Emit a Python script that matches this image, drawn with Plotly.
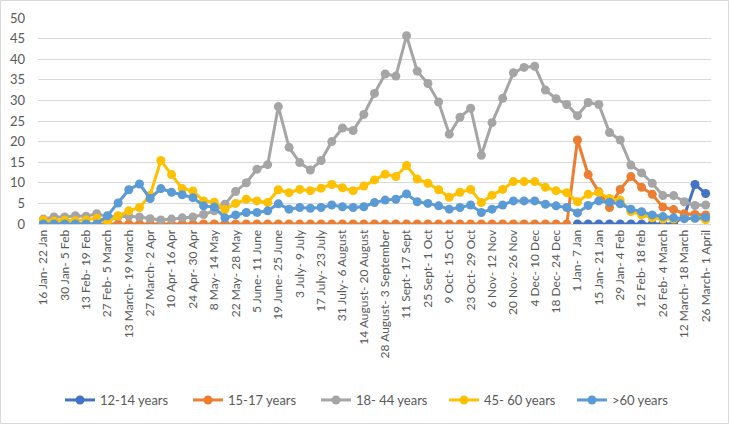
import plotly.graph_objects as go

weeks = [
    "16 Jan- 22 Jan", "23 Jan- 29 Jan", "30 Jan- 5 Feb", "6 Feb- 12 Feb", "13 Feb- 19 Feb",
    "20 Feb- 26 Feb", "27 Feb- 5 March", "6 March- 12 March", "13 March- 19 March", "20 March- 26 March",
    "27 March- 2 Apr", "3 Apr- 9 Apr", "10 Apr- 16 Apr", "17 Apr- 23 Apr", "24 Apr- 30 Apr",
    "1 May- 7 May", "8 May- 14 May", "15 May- 21 May", "22 May- 28 May", "29 May- 4 June",
    "5 June- 11 June", "12 June- 18 June", "19 June- 25 June", "26 June- 2 July", "3 July- 9 July",
    "10 July- 16 July", "17 July- 23 July", "24 July- 30 July", "31 July- 6 August", "7 August- 13 August",
    "14 August- 20 August", "21 August- 27 August", "28 August- 3 September", "4 Sept- 10 Sept", "11 Sept- 17 Sept",
    "18 Sept- 24 Sept", "25 Sept- 1 Oct", "2 Oct- 8 Oct", "9 Oct- 15 Oct", "16 Oct- 22 Oct",
    "23 Oct- 29 Oct", "30 Oct- 5 Nov", "6 Nov- 12 Nov", "13 Nov- 19 Nov", "20 Nov- 26 Nov",
    "27 Nov- 3 Dec", "4 Dec- 10 Dec", "11 Dec- 17 Dec", "18 Dec- 24 Dec", "25 Dec- 31 Dec",
    "1 Jan- 7 Jan", "8 Jan- 14 Jan", "15 Jan- 21 Jan", "22 Jan- 28 Jan", "29 Jan- 4 Feb",
    "5 Feb- 11 Feb", "12 Feb- 18 feb", "19 Feb- 25 Feb", "26 Feb- 4 March", "5 March- 11 March",
    "12 March- 18 March", "19 March- 25 March", "26 March- 1 April",
]

age_12_14 = [None] * 50 + [0, 0, 0, 0, 0, 0, 0, 0, 0, 0, 2.0, 9.6, 7.4]

age_15_17 = [0] * 50 + [20.4, 12.0, 7.8, 4.0, 8.4, 11.5, 8.9, 7.2, 4.1, 3.5, 2.5, 2.3, 2.2]

age_18_44 = [
    1.2, 1.7, 1.7, 2.0, 1.9, 2.5, 1.8, 1.8, 1.9, 1.7,
    1.3, 1.0, 1.2, 1.5, 1.7, 2.3, 3.2, 4.8, 7.9, 10.0,
    13.3, 14.4, 28.5, 18.6, 14.9, 13.1, 15.4, 20.0, 23.3, 22.7,
    26.6, 31.7, 36.4, 35.9, 45.7, 37.1, 34.1, 29.6, 21.8, 25.9,
    28.1, 16.7, 24.6, 30.5, 36.7, 38.0, 38.3, 32.5, 30.4, 29.0,
    26.3, 29.5, 29.0, 22.2, 20.4, 14.3, 12.4, 9.9, 6.9, 6.9,
    5.4, 4.5, 4.6,
]

age_45_60 = [
    1.0, 0.7, 0.9, 0.8, 1.0, 1.4, 0.6, 2.0, 3.2, 4.0,
    7.0, 15.4, 12.0, 8.6, 8.0, 5.6, 5.3, 3.5, 5.0, 6.0,
    5.6, 5.2, 8.3, 7.6, 8.4, 8.1, 8.7, 9.6, 8.8, 8.1,
    9.2, 10.7, 12.1, 11.5, 14.2, 10.9, 9.9, 8.3, 6.5, 7.7,
    8.4, 5.2, 7.0, 8.4, 10.3, 10.3, 10.3, 8.9, 8.1, 7.6,
    5.4, 7.2, 7.6, 6.2, 5.8, 3.0, 2.2, 1.5, 1.2, 1.2,
    1.3, 1.4, 1.0,
]

age_60_plus = [
    0, 0, 0, 0, 0, 0, 2.0, 5.1, 8.3, 9.7,
    6.2, 8.6, 7.7, 7.1, 6.4, 4.4, 4.1, 1.5, 2.2, 2.8,
    2.8, 3.2, 4.9, 3.6, 4.0, 3.8, 4.0, 4.6, 4.2, 4.0,
    4.2, 5.2, 5.8, 6.0, 7.3, 5.4, 5.0, 4.4, 3.6, 4.0,
    4.6, 2.8, 3.6, 4.6, 5.6, 5.6, 5.6, 4.8, 4.4, 4.0,
    2.7, 4.5, 5.6, 5.3, 4.9, 3.6, 3.0, 2.2, 1.8, 1.5,
    1.3, 1.4, 1.6,
]

series_names = ["12-14 years", "15-17 years", "18- 44 years", "45- 60 years", ">60 years"]
series_values = [age_12_14, age_15_17, age_18_44, age_45_60, age_60_plus]
series_colors = ["#4472C4", "#ED7D31", "#A5A5A5", "#FFC000", "#5B9BD5"]

y_ticks = [0, 5, 10, 15, 20, 25, 30, 35, 40, 45, 50]

fig = go.Figure()
for name, vals, col in zip(series_names, series_values, series_colors):
    fig.add_trace(go.Scatter(
        x=weeks, y=vals, name=name, mode="lines+markers",
        line=dict(color=col, width=3),
        marker=dict(color=col, size=9, symbol="circle"),
        connectgaps=False,
    ))

# plot area geometry (pixels)
L, R, T, B = 38, 711, 18, 224
W, H = 729, 424
def px_x(p):
    return (p - L) / (R - L)
def px_y(p):
    return (B - p) / (B - T)

fig.update_layout(
    width=W, height=H,
    margin=dict(l=L, r=W - R, t=T, b=H - B, pad=0, autoexpand=False),
    paper_bgcolor="white", plot_bgcolor="white",
    font=dict(family="Lato, 'Noto Sans', sans-serif", color="#595959", size=12),
    showlegend=True,
    legend=dict(
        orientation="h", xref="container", yref="container",
        x=380 / W, xanchor="center", y=1 - 400 / H, yanchor="middle",
        font=dict(size=13, color="#595959"), itemwidth=30, entrywidth=83,
    ),
    shapes=[dict(
        type="rect", xref="paper", yref="paper",
        x0=px_x(0.5), x1=px_x(728.5), y0=px_y(423.5), y1=px_y(0.5),
        line=dict(color="#D9D9D9", width=1), layer="below",
    )],
)

fig.update_xaxes(
    type="category", range=[-0.5, len(weeks) - 0.5], automargin=False,
    tickmode="array", tickvals=weeks[::2], ticktext=weeks[::2],
    tickangle=-90, tickfont=dict(size=12, color="#595959"),
    showgrid=False, showline=True, linecolor="#D9D9D9", linewidth=1,
    ticks="", zeroline=False,
)
fig.update_yaxes(
    range=[0, 50], tickmode="array", tickvals=y_ticks, automargin=False,
    tickfont=dict(size=13, color="#595959"),
    showgrid=True, gridcolor="#D9D9D9", gridwidth=1,
    showline=False, zeroline=False, ticks="", ticklabelstandoff=12,
)

fig.write_html(
    "out.html",
    config={"displayModeBar": False},
    post_script="document.body.style.margin='0';document.body.style.overflow='hidden';",
)
